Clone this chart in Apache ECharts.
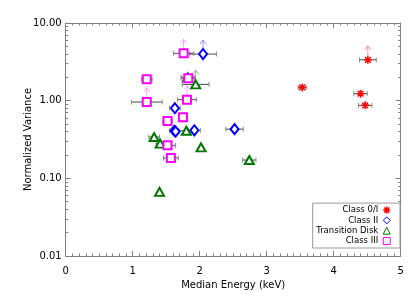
<!DOCTYPE html>
<html><head><meta charset="utf-8">
<script src="https://cdn.jsdelivr.net/npm/echarts@6/dist/echarts.min.js"></script>
<style>html,body{margin:0;padding:0;background:#fff}#c{width:420px;height:300px}</style>
</head><body><div id="c"></div>
<script>
// ---- data ----
const classNames = ['Class 0/I', 'Class II', 'Transition Disk', 'Class III'];
const xTickLabels = ['0', '1', '2', '3', '4', '5'];
const yTickLabels = ['0.01', '0.10', '1.00', '10.00'];

const c0X   = [4.51, 4.40, 4.47, 3.53];
const c0Y   = [3.36, 1.23, 0.87, 1.48];
const c0Err = [0.125, 0.10, 0.10, 0.06];
const c0Up  = [1, 0, 0, 0];

const c2X   = [2.05, 1.63, 1.62, 1.64, 1.92, 2.52];
const c2Y   = [3.98, 0.80, 0.41, 0.40, 0.415, 0.43];
const c2Err = [0.20, 0.08, 0.07, 0.06, 0.09, 0.13];
const c2Up  = [1, 0, 0, 0, 0, 0];

const tdX   = [1.94, 1.82, 1.80, 1.32, 1.41, 2.02, 2.74, 1.40];
const tdY   = [1.62, 2.00, 0.41, 0.34, 0.28, 0.25, 0.172, 0.067];
const tdErr = [0.20, 0.10, 0.12, 0.08, 0.06, 0, 0.10, 0];
const tdUp  = [1, 0, 0, 0, 0, 0, 0, 0];

const c3X   = [1.76, 1.21, 1.83, 1.21, 1.81, 1.75, 1.52, 1.52, 1.57];
const c3Y   = [4.07, 1.88, 1.95, 0.96, 1.03, 0.61, 0.547, 0.266, 0.183];
const c3Err = [0.15, 0.08, 0.10, 0.23, 0.14, 0.06, 0.07, 0.12, 0.11];
const c3Up  = [1, 0, 0, 1, 1, 0, 0, 0, 0];

// ---- build ----
const STAR = 'path://M0,-5L0,5M-5,0L5,0M-3.6,-3.6L3.6,3.6M-3.6,3.6L3.6,-3.6';
const groups = [
  {name: classNames[0], x: c0X, y: c0Y, err: c0Err, up: c0Up, color: '#ff0000', arrow: 'rgba(255,80,80,0.6)',
   symbol: STAR, legendIcon: STAR, size: 8},
  {name: classNames[1], x: c2X, y: c2Y, err: c2Err, up: c2Up, color: '#0000ff', arrow: 'rgba(80,80,255,0.6)',
   symbol: 'emptyDiamond', legendIcon: 'diamond', size: [8, 10]},
  {name: classNames[2], x: tdX, y: tdY, err: tdErr, up: tdUp, color: '#007800', arrow: 'rgba(60,150,60,0.6)',
   symbol: 'emptyTriangle', legendIcon: 'triangle', size: [9, 8]},
  {name: classNames[3], x: c3X, y: c3Y, err: c3Err, up: c3Up, color: '#ff00ff', arrow: 'rgba(255,100,255,0.6)',
   symbol: 'emptyRect', legendIcon: 'rect', size: 8}
];

// minor log ticks (decoration axis in log10 space)
const minorLog = [];
for (let d = -2; d < 1; d++) for (let k = 2; k <= 9; k++) minorLog.push(d + Math.log10(k));

const FONT = 'DejaVu Sans';
const AX = '#808080';

const series = [];
groups.forEach((g, gi) => {
  const pts = g.x.map((v, i) => [v, g.y[i], g.err[i], g.up[i]]);
  series.push({
    type: 'custom', name: 'err' + gi, xAxisIndex: 0, yAxisIndex: 0, silent: true, z: 1,
    data: pts, encode: {x: 0, y: 1},
    renderItem: function (params, api) {
      const x = api.value(0), y = api.value(1), e = api.value(2);
      if (!(e > 0)) return {type: 'group', children: []};
      const a = api.coord([x - e, y]), b = api.coord([x + e, y]);
      const st = {stroke: '#4a4a4a', lineWidth: 1};
      const cap = {stroke: '#8a8a8a', lineWidth: 1};
      return {type: 'group', children: [
        {type: 'line', shape: {x1: a[0], y1: a[1], x2: b[0], y2: b[1]}, style: st},
        {type: 'line', shape: {x1: a[0], y1: a[1] - 2.5, x2: a[0], y2: a[1] + 2.5}, style: cap},
        {type: 'line', shape: {x1: b[0], y1: b[1] - 2.5, x2: b[0], y2: b[1] + 2.5}, style: cap}
      ]};
    }
  });
});
groups.forEach((g, gi) => {
  series.push({
    type: 'scatter', name: g.name, xAxisIndex: 0, yAxisIndex: 0, z: 3,
    symbol: g.symbol, symbolSize: g.size,
    itemStyle: {color: g.color, borderColor: g.color, borderWidth: gi === 0 ? 1.5 : 1.1, opacity: 1},
    data: g.x.map((v, i) => [v, g.y[i]])
  });
});
groups.forEach((g, gi) => {
  const pts = g.x.map((v, i) => [v, g.y[i], g.up[i]]).filter(p => p[2] === 1);
  series.push({
    type: 'custom', name: 'up' + gi, xAxisIndex: 0, yAxisIndex: 0, silent: true, z: 2,
    data: pts, encode: {x: 0, y: 1},
    renderItem: function (params, api) {
      const c = api.coord([api.value(0), api.value(1)]);
      const x = c[0], y0 = c[1] - 4, y1 = c[1] - 14;
      const st = {stroke: g.arrow, lineWidth: 1, fill: null};
      return {type: 'group', children: [
        {type: 'line', shape: {x1: x, y1: y0, x2: x, y2: y1}, style: st},
        {type: 'polyline', shape: {points: [[x - 3, y1 + 4], [x, y1], [x + 3, y1 + 4]]}, style: st}
      ]};
    }
  });
});

const option = {
  animation: false,
  backgroundColor: '#fff',
  textStyle: {fontFamily: FONT},
  grid: {left: 65.7, right: 19.3, top: 23, bottom: 44, containLabel: false},
  legend: {
    data: groups.map((g, gi) => ({
      name: g.name, icon: g.legendIcon,
      itemStyle: {color: gi === 0 ? g.color : '#fff', borderColor: g.color, borderWidth: gi === 0 ? 1.5 : 1}
    })),
    orient: 'vertical', right: 20, bottom: 52, align: 'right',
    itemWidth: 7, itemHeight: 7, itemGap: 0.3, padding: [2, 9, 2, 3.5],
    borderColor: '#999', borderWidth: 1, backgroundColor: '#fff',
    textStyle: {fontFamily: FONT, fontSize: 8.5, lineHeight: 10, color: '#000', padding: [0, 0, 0, 0]},
    selectedMode: false
  },
  xAxis: [
    {type: 'value', position: 'bottom', min: 0, max: 5, interval: 1,
     name: 'Median Energy (keV)', nameLocation: 'middle', nameGap: 19,
     nameTextStyle: {fontFamily: FONT, fontSize: 10, color: '#000'},
     axisLine: {onZero: false, lineStyle: {color: AX}},
     axisTick: {inside: true, length: 5, lineStyle: {color: AX}},
     minorTick: {show: true, splitNumber: 10, length: 2.5, lineStyle: {color: AX}},
     axisLabel: {fontFamily: FONT, fontSize: 10, color: '#000', margin: 10,
       formatter: v => xTickLabels[Math.round(v)]},
     splitLine: {show: false}},
    {type: 'value', position: 'top', min: 0, max: 5, interval: 1,
     axisLine: {onZero: false, lineStyle: {color: AX}},
     axisTick: {inside: true, length: 5, lineStyle: {color: AX}},
     minorTick: {show: true, splitNumber: 10, length: 2.5, lineStyle: {color: AX}},
     axisLabel: {show: false}, splitLine: {show: false}}
  ],
  yAxis: [
    {type: 'log', logBase: 10, position: 'left', min: 0.01, max: 10, interval: 1,
     name: 'Normalized Variance', nameLocation: 'middle', nameGap: 32, nameMoveOverlap: false,
     nameTextStyle: {fontFamily: FONT, fontSize: 10, color: '#000'},
     axisLine: {show: true, onZero: false, lineStyle: {color: AX}},
     axisTick: {inside: true, length: 5, lineStyle: {color: AX}},
     axisLabel: {fontFamily: FONT, fontSize: 10, color: '#000', margin: 4,
       formatter: v => yTickLabels[Math.round(Math.log10(v)) + 2]},
     splitLine: {show: false}},
    {type: 'log', logBase: 10, position: 'right', min: 0.01, max: 10, interval: 1,
     axisLine: {show: true, onZero: false, lineStyle: {color: AX}},
     axisTick: {inside: true, length: 5, lineStyle: {color: AX}},
     axisLabel: {show: false}, splitLine: {show: false}},
    {type: 'value', position: 'left', min: -2, max: 1, interval: 1,
     axisLine: {show: false, onZero: false}, axisLabel: {show: false}, splitLine: {show: false},
     axisTick: {show: true, inside: true, length: 2.5, customValues: minorLog, lineStyle: {color: AX}}},
    {type: 'value', position: 'right', min: -2, max: 1, interval: 1,
     axisLine: {show: false, onZero: false}, axisLabel: {show: false}, splitLine: {show: false},
     axisTick: {show: true, inside: true, length: 2.5, customValues: minorLog, lineStyle: {color: AX}}}
  ],
  series: series
};
const chart = echarts.init(document.getElementById('c'), null, {renderer: 'canvas'});
chart.setOption(option);
</script>
</body></html>
